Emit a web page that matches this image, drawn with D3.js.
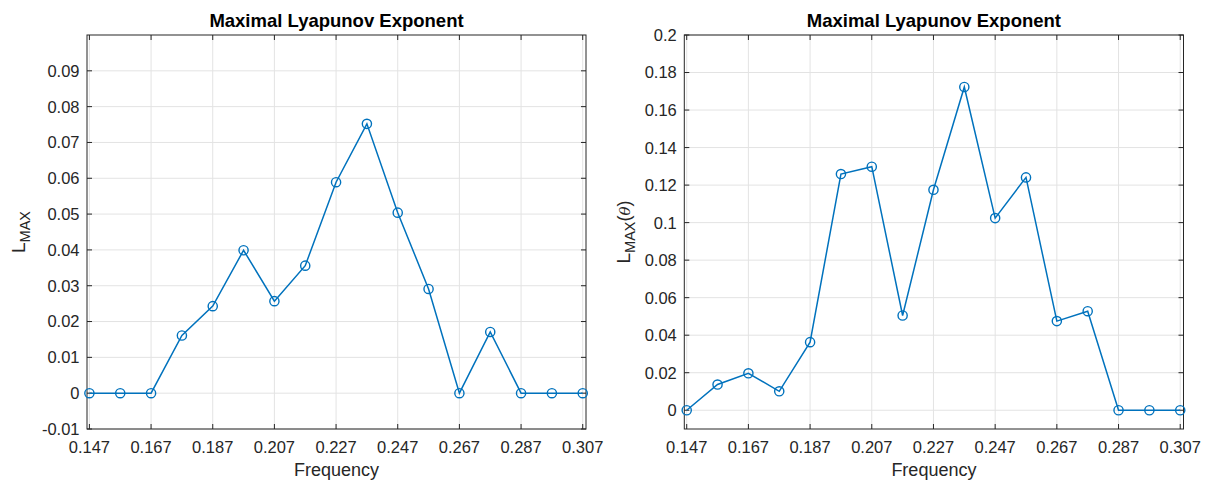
<!DOCTYPE html>
<html>
<head>
<meta charset="utf-8">
<script src="https://cdn.jsdelivr.net/npm/d3@7"></script>
<style>
    body { margin: 0; background: #fff; }
    svg { display: block; font-family: "Liberation Sans", Arial, Helvetica, sans-serif; }
    .tick-label { font-size: 16.5px; fill: #262626; }
    .axis-label { font-size: 18px; fill: #262626; }
    .title { font-size: 18.5px; font-weight: bold; fill: #000; }
</style>
</head>
<body>
<div id="chart"></div>
<script>
// data
const freq = [0.147, 0.157, 0.167, 0.177, 0.187, 0.197, 0.207, 0.217, 0.227,
              0.237, 0.247, 0.257, 0.267, 0.277, 0.287, 0.297, 0.307]
const lmax = [0, 0, 0, 0.0161, 0.0243, 0.0399, 0.0257, 0.0356, 0.0589,
              0.0752, 0.0504, 0.0291, 0, 0.0171, 0, 0, 0]
const lmaxTheta = [0, 0.0137, 0.0197, 0.0101, 0.0363, 0.1259, 0.1298, 0.0505, 0.1175,
                   0.1723, 0.1024, 0.1241, 0.0475, 0.0528, 0, 0, 0]
const xTicks = [0.147, 0.167, 0.187, 0.207, 0.227, 0.247, 0.267, 0.287, 0.307]
const yTicksLeft = [-0.01, 0, 0.01, 0.02, 0.03, 0.04, 0.05, 0.06, 0.07, 0.08, 0.09]
const yTicksRight = [0, 0.02, 0.04, 0.06, 0.08, 0.1, 0.12, 0.14, 0.16, 0.18, 0.2]
const titleText = "Maximal Lyapunov Exponent"
const xLabel = "Frequency"

const width = 1213, height = 483
const lineColor = "#0072BD"
const axisColor = "#262626"
const gridColor = "#e3e3e3"
const tickLen = 5

var svg = d3.select("#chart")
    .append("svg")
    .attr("width", width)
    .attr("height", height)

function fmt(v) { return String(+v.toFixed(4)) }

function drawPanel(opts)
{
    var xScale = d3.scaleLinear()
        .domain([0.14622, 0.30806])
        .range([opts.left, opts.right])
    var yScale = d3.scaleLinear()
        .domain(opts.yDomain)
        .range([opts.bottom, opts.top])

    var g = svg.append("g")
    var cx = (opts.left + opts.right) / 2

    // grid
    g.append("g").selectAll("line")
        .data(xTicks)
        .enter().append("line")
        .attr("x1", d => xScale(d)).attr("x2", d => xScale(d))
        .attr("y1", opts.top).attr("y2", opts.bottom)
        .attr("stroke", gridColor).attr("stroke-width", 1)
    g.append("g").selectAll("line")
        .data(opts.yTicks)
        .enter().append("line")
        .attr("x1", opts.left).attr("x2", opts.right)
        .attr("y1", d => yScale(d)).attr("y2", d => yScale(d))
        .attr("stroke", gridColor).attr("stroke-width", 1)

    // box
    g.append("rect")
        .attr("x", opts.left).attr("y", opts.top)
        .attr("width", opts.right - opts.left)
        .attr("height", opts.bottom - opts.top)
        .attr("fill", "none")
        .attr("stroke", axisColor).attr("stroke-width", 1)

    // inward ticks, all four sides
    var ticks = g.append("g").attr("stroke", axisColor).attr("stroke-width", 1)
    xTicks.forEach(function(t) {
        var x = xScale(t)
        ticks.append("line").attr("x1", x).attr("x2", x)
            .attr("y1", opts.bottom).attr("y2", opts.bottom - tickLen)
        ticks.append("line").attr("x1", x).attr("x2", x)
            .attr("y1", opts.top).attr("y2", opts.top + tickLen)
    })
    opts.yTicks.forEach(function(t) {
        var y = yScale(t)
        ticks.append("line").attr("x1", opts.left).attr("x2", opts.left + tickLen)
            .attr("y1", y).attr("y2", y)
        ticks.append("line").attr("x1", opts.right).attr("x2", opts.right - tickLen)
            .attr("y1", y).attr("y2", y)
    })

    // tick labels
    g.append("g").selectAll("text")
        .data(xTicks)
        .enter().append("text")
        .attr("class", "tick-label")
        .attr("x", d => xScale(d))
        .attr("y", opts.bottom + 24)
        .attr("text-anchor", "middle")
        .text(fmt)
    g.append("g").selectAll("text")
        .data(opts.yTicks)
        .enter().append("text")
        .attr("class", "tick-label")
        .attr("x", opts.left - 7.5)
        .attr("y", d => yScale(d))
        .attr("dy", "0.36em")
        .attr("text-anchor", "end")
        .text(fmt)

    // series
    var line = d3.line()
        .x((d, i) => xScale(freq[i]))
        .y(d => yScale(d))
    g.append("path")
        .datum(opts.values)
        .attr("d", line)
        .attr("fill", "none")
        .attr("stroke", lineColor)
        .attr("stroke-width", 1.5)
    g.append("g").selectAll("circle")
        .data(opts.values)
        .enter().append("circle")
        .attr("cx", (d, i) => xScale(freq[i]))
        .attr("cy", d => yScale(d))
        .attr("r", 4.6)
        .attr("fill", "none")
        .attr("stroke", lineColor)
        .attr("stroke-width", 1.4)

    // title and labels
    g.append("text")
        .attr("class", "title")
        .attr("x", cx).attr("y", 26.5)
        .attr("text-anchor", "middle")
        .text(titleText)
    g.append("text")
        .attr("class", "axis-label")
        .attr("x", cx).attr("y", 476)
        .attr("text-anchor", "middle")
        .text(xLabel)

    var yl = g.append("text")
        .attr("class", "axis-label")
        .attr("text-anchor", "middle")
        .attr("transform", "translate(" + opts.yLabelX + "," + ((opts.top + opts.bottom) / 2) + ") rotate(-90)")
    yl.append("tspan").style("font-size", "19px").text("L")
    yl.append("tspan").attr("dy", 5).style("font-size", "14.5px").text("MAX")
    if (opts.theta) {
        yl.append("tspan").attr("dy", -5).text("(")
        yl.append("tspan").style("font-style", "italic").style("font-family", "'DejaVu Serif', serif").style("font-size", "15px").text("\u03b8")
        yl.append("tspan").text(")")
    }
}

drawPanel({left: 87, right: 586, top: 35, bottom: 429,
           yDomain: [-0.01, 0.1], yTicks: yTicksLeft, values: lmax,
           yLabelX: 25, theta: false})
drawPanel({left: 684.3, right: 1183.5, top: 35, bottom: 429,
           yDomain: [-0.01, 0.2], yTicks: yTicksRight, values: lmaxTheta,
           yLabelX: 630, theta: true})
</script>
</body>
</html>
